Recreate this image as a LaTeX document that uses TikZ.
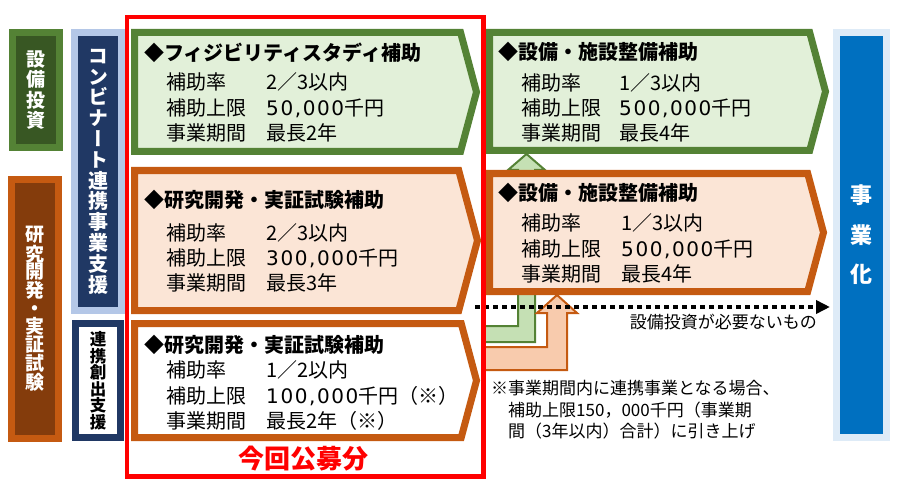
\documentclass[tikz,border=0pt]{standalone}
\usepackage{fontspec}
\setmainfont{Noto Sans CJK JP}
\newfontfamily\vertfont{Noto Sans CJK JP}[RawFeature=+vert]
\newfontfamily\numfont{DejaVu Sans}[LetterSpace=8]
\usetikzlibrary{shapes.symbols,arrows.meta}
\definecolor{grn}{HTML}{548235}
\definecolor{dkgrn}{HTML}{385723}
\definecolor{grnl}{HTML}{E2F0D9}
\definecolor{org}{HTML}{C55A11}
\definecolor{dkorg}{HTML}{843C0C}
\definecolor{orgl}{HTML}{FBE5D6}
\definecolor{navy}{HTML}{203864}
\definecolor{ltblue}{HTML}{B4C7E7}
\definecolor{bizblue}{HTML}{0070C0}
\definecolor{paleblue}{HTML}{DEEBF7}
\definecolor{garrowfill}{HTML}{C5E0B4}
\definecolor{oarrowfill}{HTML}{F8CBAD}
\newcommand{\nm}[1]{{\numfont #1}}
\begin{document}
\begin{tikzpicture}[x=1pt,y=-1pt,
	tab/.style={rectangle,line width=7pt,inner sep=0,align=center,text=white},
	chev/.style={signal,signal to=east,signal pointer angle=150,line width=7pt,
		inner sep=0,anchor=west},
	gbox/.style={chev,draw=grn,fill=grnl},
	obox/.style={chev,draw=org,fill=orgl},
	wbox/.style={chev,draw=org,fill=white},
	ttl/.style={inner sep=0,anchor=west,font=\bfseries\fontsize{20}{24}\selectfont},
	txt/.style={inner sep=0,anchor=west,font=\fontsize{20}{24}\selectfont},
	note/.style={inner sep=0,anchor=west,font=\fontsize{17}{21}\selectfont},
	garrow/.style={draw=grn,fill=garrowfill,line width=2pt},
	oarrow/.style={draw=org,fill=oarrowfill,line width=2pt}]
\useasboundingbox (0,0) rectangle (905,492);

% left tabs
\node[tab,draw=grn,fill=dkgrn,minimum width=47,minimum height=115,
	font=\vertfont\bfseries\fontsize{19}{20.5}\selectfont] (invest) at (36,90)
	{設\\備\\投\\資};
\node[tab,draw=org,fill=dkorg,minimum width=47,minimum height=259,
	font=\vertfont\bfseries\fontsize{19}{17.9}\selectfont] (rnd) at (35,309)
	{研\\究\\開\\発\\・\\実\\証\\試\\験};
\node[tab,draw=ltblue,fill=navy,minimum width=47,minimum height=278,
	font=\vertfont\bfseries\fontsize{20}{20.8}\selectfont] (kombi) at (98,171.5)
	{コ\\ン\\ビ\\ナ\\ー\\ト\\連\\携\\事\\業\\支\\援};
\node[tab,draw=navy,fill=white,text=black,minimum width=45,minimum height=114,
	font=\vertfont\bfseries\fontsize{16.5}{16.5}\selectfont] (sosyutsu) at (98,380.5)
	{連\\携\\創\\出\\支\\援};
\node[tab,draw=paleblue,fill=bizblue,minimum width=50,minimum height=405,
	font=\bfseries\fontsize{22}{39.5}\selectfont] (jigyoka) at (861.5,235)
	{事\\業\\化};

% arrows into the equipment boxes
\node[gbox,minimum width=336,minimum height=118] (eqg) at (486,91.5) {};
\draw[garrow] (484,326) -- (518,326) -- (518,170) -- (508,170)
	-- (526.5,0 |- eqg.south) -- (545,170) -- (535,170) -- (535,342) -- (484,342) -- cycle;
\node[obox,minimum width=334,minimum height=118] (eqo) at (486,232.5) {};
\draw[oarrow] (484,347) -- (547,347) -- (547,313) -- (537,313)
	-- (557,0 |- eqo.south) -- (577,313) -- (567,313) -- (567,370) -- (484,370) -- cycle;

% boxes inside the call
\node[gbox,minimum width=342,minimum height=119] (fs) at (131,92) {};
\node[obox,minimum width=343,minimum height=140] (rd1) at (131,240.5) {};
\node[wbox,minimum width=342,minimum height=114] (rd2) at (131,380.5) {};

\node[ttl] (fs-t) at (144,53) {◆フィジビリティスタディ補助};
\foreach \y/\a/\b in {82/補助率/2／3以内,108/補助上限/\nm{50,000}千円,133/事業期間/最長2年}{
	\node[txt] (fs-a\y) at (166,\y) {\a};
	\node[txt] (fs-b\y) at (266,\y) {\b};
}
\node[ttl] (rd1-t) at (144,200) {◆研究開発・実証試験補助};
\foreach \y/\a/\b in {233/補助率/2／3以内,258/補助上限/\nm{300,000}千円,283/事業期間/最長3年}{
	\node[txt] (rd1-a\y) at (166,\y) {\a};
	\node[txt] (rd1-b\y) at (266,\y) {\b};
}
\node[ttl] (rd2-t) at (144,345) {◆研究開発・実証試験補助};
\foreach \y/\a/\b in {370/補助率/1／2以内,396/補助上限/\nm{100,000}千円（※）,421/事業期間/最長2年（※）}{
	\node[txt] (rd2-a\y) at (166,\y) {\a};
	\node[txt] (rd2-b\y) at (266,\y) {\b};
}
\node[ttl] (eqg-t) at (498,52) {◆設備・施設整備補助};
\foreach \y/\a/\b in {83/補助率/1／3以内,108/補助上限/\nm{500,000}千円,133/事業期間/最長4年}{
	\node[txt] (eqg-a\y) at (521,\y) {\a};
	\node[txt] (eqg-b\y) at (619,\y) {\b};
}
\node[ttl] (eqo-t) at (498,193) {◆設備・施設整備補助};
\foreach \y/\a/\b in {223/補助率/1／3以内,249/補助上限/\nm{500,000}千円,274/事業期間/最長4年}{
	\node[txt] (eqo-a\y) at (521,\y) {\a};
	\node[txt] (eqo-b\y) at (621,\y) {\b};
}

% no equipment needed
\coordinate (nodep) at (475,307);
\coordinate (nodeq) at (830,307);
\draw[line width=4.5pt,dash pattern=on 4.5pt off 4.5pt,
	-{Triangle[length=14pt,width=13pt]}] (nodep) -- (nodeq);
\node[note,anchor=east] (nolabel) at (817,322) {設備投資が必要ないもの};

\node[note] (note1) at (491,388) {※事業期間内に連携事業となる場合、};
\node[note] (note2) at (508,410) {補助上限150，000千円（事業期};
\node[note] (note3) at (508,431) {間（3年以内）合計）に引き上げ};

% this call
\draw[red,line width=4.5pt] (127,17) rectangle (483.5,476.5);
\node[inner sep=0,text=red,font=\bfseries\fontsize{26}{30}\selectfont] (call) at (303,459) {今回公募分};
\end{tikzpicture}
\end{document}
